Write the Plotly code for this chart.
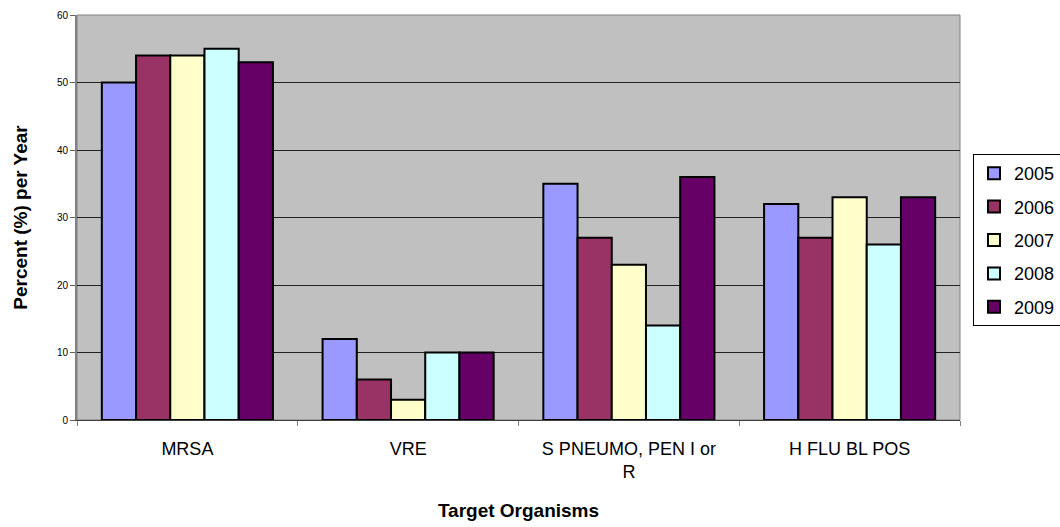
import plotly.graph_objects as go

categories = ["MRSA", "VRE", "S PNEUMO, PEN I or<br>R", "H FLU BL POS"]
years = ["2005", "2006", "2007", "2008", "2009"]
values = {
    "2005": [50, 12, 35, 32],
    "2006": [54, 6, 27, 27],
    "2007": [54, 3, 23, 33],
    "2008": [55, 10, 14, 26],
    "2009": [53, 10, 36, 33],
}
colors = {
    "2005": "#9999FF",
    "2006": "#993366",
    "2007": "#FFFFCC",
    "2008": "#CCFFFF",
    "2009": "#660066",
}

fig = go.Figure()
for y in years:
    fig.add_trace(go.Bar(
        name=y, x=categories, y=values[y], legendgroup=y,
        marker=dict(color=colors[y], line=dict(color="black", width=2)),
    ))

fig.update_layout(
    width=1060, height=527,
    margin=dict(l=77, r=100, t=15, b=107, autoexpand=False),
    paper_bgcolor="white",
    plot_bgcolor="#C0C0C0",
    barmode="group",
    bargap=0.225,
    bargroupgap=0,
    font=dict(family="Liberation Sans, Arial, sans-serif", color="black"),
    showlegend=True,
    legend=dict(
        xref="container", yref="container",
        x=973 / 1060, y=1 - 240 / 527, xanchor="left", yanchor="middle",
        bordercolor="black", borderwidth=1, bgcolor="white",
        font=dict(size=18), itemsizing="constant",
        tracegroupgap=7, entrywidth=42,
    ),
    xaxis=dict(
        type="category",
        automargin=False,
        tickson="boundaries",
        ticks="outside", ticklen=5, tickcolor="#808080",
        ticklabelstandoff=12,
        showline=True, linecolor="#404040", linewidth=1, mirror=False,
        tickfont=dict(size=18),
        title=dict(text="<b>Target Organisms</b>", font=dict(size=19), standoff=22),
    ),
    yaxis=dict(
        range=[0, 60], dtick=10,
        automargin=False,
        ticks="outside", ticklen=5, tickcolor="#606060",
        showline=True, linecolor="#808080", linewidth=2, mirror=False,
        showgrid=True, gridcolor="#222222", gridwidth=1,
        zeroline=False,
        tickfont=dict(size=10),
        title=dict(text="<b>Percent (%) per Year</b>", font=dict(size=19), standoff=24),
    ),
)

# thin grey frame on the top and right of the plotting area
fig.add_shape(type="rect", xref="paper", yref="paper", x0=0, x1=1, y0=0, y1=1,
              line=dict(color="#808080", width=1), layer="below")

fig.write_html("out.html")
